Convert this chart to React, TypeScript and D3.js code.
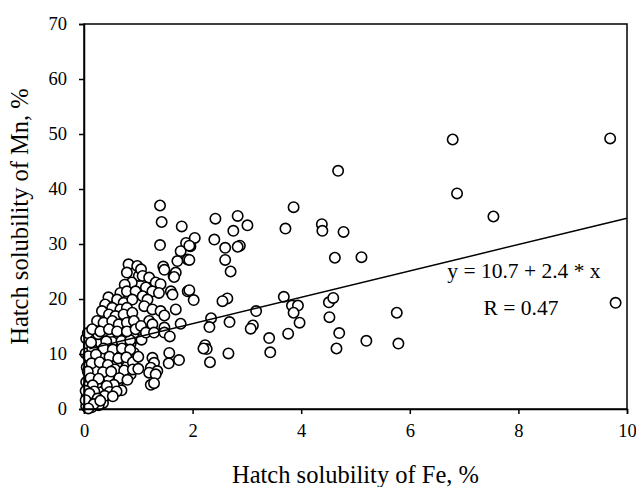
import { useEffect, useRef } from "react"
import * as d3 from "d3"

// Hatch solubility: [Fe %, Mn %]
const farPoints: [number, number][] = [
  [9.69, 49.2], [6.79, 49.0], [6.87, 39.2], [7.54, 35.0], [9.79, 19.3],
  [5.76, 17.5], [5.79, 11.9], [5.2, 12.4], [5.11, 27.6],
  [4.68, 43.3], [4.78, 32.2], [4.38, 33.6], [4.39, 32.4], [4.62, 27.5],
  [4.51, 19.4], [4.59, 20.2], [4.52, 16.7], [4.7, 13.8], [4.65, 11.0],
  [3.86, 36.7], [3.71, 32.8], [3.68, 20.4], [3.83, 18.8], [3.94, 18.8], [3.86, 17.5], [3.97, 15.7], [3.76, 13.7],
  [3.41, 12.9], [3.43, 10.3], [3.17, 17.8], [3.11, 15.2], [3.07, 14.6],
  [3.01, 33.4], [2.83, 35.1], [2.75, 32.4], [2.87, 29.7], [2.83, 29.5], [2.6, 29.3], [2.6, 27.1], [2.7, 25.0],
  [2.42, 34.6], [2.4, 30.8], [2.64, 20.1], [2.55, 19.6], [2.68, 15.8], [2.34, 16.5], [2.31, 14.9],
  [2.23, 11.6], [2.26, 10.9], [2.2, 11.0], [2.32, 8.5], [2.66, 10.1],
  [2.04, 31.1], [1.94, 29.7], [1.94, 27.1], [1.94, 21.6], [2.02, 19.8],
]

const midPoints: [number, number][] = [
  [1.4, 37.0], [1.43, 34.0], [1.8, 33.2], [1.4, 29.8], [1.88, 30.2], [1.96, 29.6], [1.78, 28.7],
  [1.91, 27.2], [1.72, 26.9], [1.65, 24.2], [1.69, 24.8], [1.46, 25.9], [1.48, 25.3],
  [1.66, 24.0], [1.91, 21.4], [1.6, 21.4], [1.63, 20.8], [1.69, 18.1], [1.78, 15.5],
  [1.05, 25.4], [1.08, 24.2], [1.2, 23.9], [1.32, 23.0], [1.41, 22.7], [1.14, 22.1], [1.26, 21.4],
  [1.38, 21.1], [1.08, 20.5], [1.17, 19.9], [1.11, 18.7], [1.26, 18.1], [1.41, 17.8], [1.48, 17.0],
  [1.2, 16.0], [1.26, 15.4], [1.48, 14.8], [1.05, 15.1],
  [1.06, 12.6], [1.14, 13.9], [1.29, 13.9], [1.48, 13.9], [1.58, 13.2], [1.57, 10.2], [1.75, 8.9],
  [1.56, 8.3], [1.26, 9.3], [1.29, 8.4], [1.23, 7.5], [1.35, 6.9], [1.2, 6.6], [1.32, 6.3],
  [1.23, 4.4], [1.29, 4.7], [1.0, 9.5], [1.0, 7.3],
]

const nearPoints: [number, number][] = [
  [0.82, 26.3], [0.98, 26.0], [0.79, 24.8], [1.01, 24.2], [0.88, 23.0], [0.75, 22.6],
  [0.67, 21.1], [0.79, 21.4], [0.95, 21.4], [0.45, 20.3], [0.61, 19.9], [0.73, 19.3], [0.89, 19.9],
  [0.39, 19.0], [0.52, 18.4], [0.67, 18.1], [0.79, 18.4], [0.33, 17.8], [0.46, 17.2], [0.58, 16.9],
  [0.73, 17.2], [0.89, 17.5], [0.24, 16.0], [0.36, 15.7], [0.52, 16.0], [0.64, 15.4], [0.79, 15.7],
  [0.92, 16.0], [0.15, 14.5], [0.3, 14.1], [0.46, 14.5], [0.61, 14.1], [0.79, 14.1], [0.95, 14.5],
]

const corePoints: [number, number][] = [
  [0.04, 12.8], [0.18, 13.3], [0.33, 12.9], [0.47, 13.1], [0.63, 12.7], [0.78, 13.0], [0.93, 12.9],
  [0.09, 11.5], [0.26, 11.8], [0.41, 11.4], [0.56, 11.9], [0.71, 11.6], [0.86, 11.9],
  [0.03, 10.1], [0.17, 10.5], [0.32, 10.2], [0.48, 10.4], [0.62, 10.0], [0.77, 10.6], [0.92, 10.2],
  [0.11, 8.9], [0.25, 9.2], [0.4, 8.8], [0.55, 9.1], [0.69, 8.7], [0.85, 9.0],
  [0.05, 7.6], [0.19, 7.9], [0.34, 7.5], [0.49, 7.8], [0.63, 7.4], [0.79, 7.7],
  [0.12, 6.2], [0.27, 6.5], [0.42, 6.1], [0.56, 6.4], [0.71, 6.0], [0.86, 6.3],
  [0.04, 4.9], [0.19, 5.2], [0.33, 4.8], [0.48, 5.1], [0.62, 4.7],
  [0.1, 3.6], [0.25, 3.9], [0.39, 3.5], [0.54, 3.8], [0.69, 3.4],
  [0.05, 2.3], [0.17, 2.6], [0.3, 2.2], [0.45, 2.5],
  [0.09, 1.2], [0.21, 1.5], [0.35, 1.1],
  [0.04, 0.5], [0.14, 0.3], [0.27, 0.7],
  [0.15, 11.0], [0.38, 9.6], [0.6, 8.2], [0.22, 7.0], [0.45, 5.8], [0.08, 4.2], [0.3, 3.0],
  [0.12, 1.9], [0.52, 12.2], [0.7, 9.6], [0.35, 14.0], [0.2, 14.6],
  [0.07, 13.8], [0.26, 13.6], [0.41, 12.3], [0.69, 12.4], [0.85, 12.5], [0.13, 12.1], [0.36, 11.0],
  [0.53, 10.8], [0.7, 11.0], [0.85, 10.8], [0.08, 9.6], [0.22, 9.9], [0.47, 9.5], [0.63, 9.2],
  [0.78, 9.4], [0.9, 8.5], [0.14, 8.3], [0.29, 8.5], [0.44, 8.0], [0.57, 7.2], [0.74, 7.0],
  [0.9, 7.2], [0.07, 6.8], [0.35, 6.7], [0.5, 6.8], [0.65, 5.6], [0.8, 5.3], [0.12, 5.6],
  [0.27, 5.5], [0.55, 4.4], [0.16, 4.3], [0.42, 4.2], [0.03, 3.3], [0.19, 3.2], [0.47, 3.1],
  [0.6, 3.2], [0.1, 2.8], [0.38, 2.4], [0.25, 1.9], [0.03, 1.6], [0.18, 0.9], [0.08, 0.1],
  [0.3, 1.5], [0.53, 2.3],
]

const xTicks = [0, 2, 4, 6, 8, 10]
const yTicks = [0, 10, 20, 30, 40, 50, 60, 70]
const fit = { intercept: 10.7, slope: 2.4, r: 0.47, from: 0.1, to: 10 }

const W = 636
const H = 487
const margin = { top: 24, right: 9, bottom: 78, left: 84 }
const font = "'Liberation Serif', 'Times New Roman', serif"

export default function App() {
  const svgRef = useRef<SVGSVGElement>(null)

  useEffect(() => {
    const svg = d3.select(svgRef.current)
    svg.selectAll("*").remove()

    const x = d3.scaleLinear().domain([0, 10]).range([margin.left, W - margin.right])
    const y = d3.scaleLinear().domain([0, 70]).range([H - margin.bottom, margin.top])

    svg.append("rect").attr("width", W).attr("height", H).attr("fill", "#fff")

    const points = [...corePoints, ...nearPoints, ...midPoints, ...farPoints]

    svg
      .append("g")
      .selectAll("circle")
      .data(points)
      .join("circle")
      .attr("cx", (d) => x(d[0]))
      .attr("cy", (d) => y(d[1]))
      .attr("r", 5.2)
      .attr("fill", "#fff")
      .attr("stroke", "#000")
      .attr("stroke-width", 1.6)

    const line = d3
      .line<number>()
      .x((d) => x(d))
      .y((d) => y(fit.intercept + fit.slope * d))
    svg
      .append("path")
      .datum([fit.from, fit.to])
      .attr("d", line)
      .attr("fill", "none")
      .attr("stroke", "#000")
      .attr("stroke-width", 1.5)

    // frame
    svg
      .append("rect")
      .attr("x", x(0))
      .attr("y", y(70))
      .attr("width", x(10) - x(0))
      .attr("height", y(0) - y(70))
      .attr("fill", "none")
      .attr("stroke", "#000")
      .attr("stroke-width", 1.5)

    const xAxis = svg
      .append("g")
      .attr("transform", `translate(0,${y(0)})`)
      .call(d3.axisBottom(x).tickValues(xTicks).tickSize(5).tickPadding(10).tickFormat(d3.format("d")))
    const yAxis = svg
      .append("g")
      .attr("transform", `translate(${x(0)},0)`)
      .call(d3.axisLeft(y).tickValues(yTicks).tickSize(5).tickPadding(12).tickFormat(d3.format("d")))

    for (const ax of [xAxis, yAxis]) {
      ax.select(".domain").attr("stroke-width", 1.5)
      ax.selectAll("line").attr("stroke-width", 1.5)
      ax.selectAll("text").attr("font-family", font).attr("font-size", 18.5).attr("fill", "#000")
    }

    svg
      .append("text")
      .attr("x", (x(0) + x(10)) / 2)
      .attr("y", 483)
      .attr("text-anchor", "middle")
      .attr("font-family", font)
      .attr("font-size", 24.5)
      .text("Hatch solubility of Fe, %")

    svg
      .append("text")
      .attr("transform", `translate(28,${(y(0) + y(70)) / 2}) rotate(-90)`)
      .attr("text-anchor", "middle")
      .attr("font-family", font)
      .attr("font-size", 24.5)
      .text("Hatch solubility of Mn, %")

    svg
      .append("text")
      .attr("x", 524)
      .attr("y", 278)
      .attr("text-anchor", "middle")
      .attr("font-family", font)
      .attr("font-size", 21.5)
      .text(`y = ${fit.intercept} + ${fit.slope} * x`)

    svg
      .append("text")
      .attr("x", 521)
      .attr("y", 315)
      .attr("text-anchor", "middle")
      .attr("font-family", font)
      .attr("font-size", 21.5)
      .text(`R = ${fit.r}`)
  }, [])

  return (
    <div style={{ position: "fixed", left: 0, top: 0 }}>
      <svg ref={svgRef} width={W} height={H} style={{ display: "block" }} />
    </div>
  )
}
